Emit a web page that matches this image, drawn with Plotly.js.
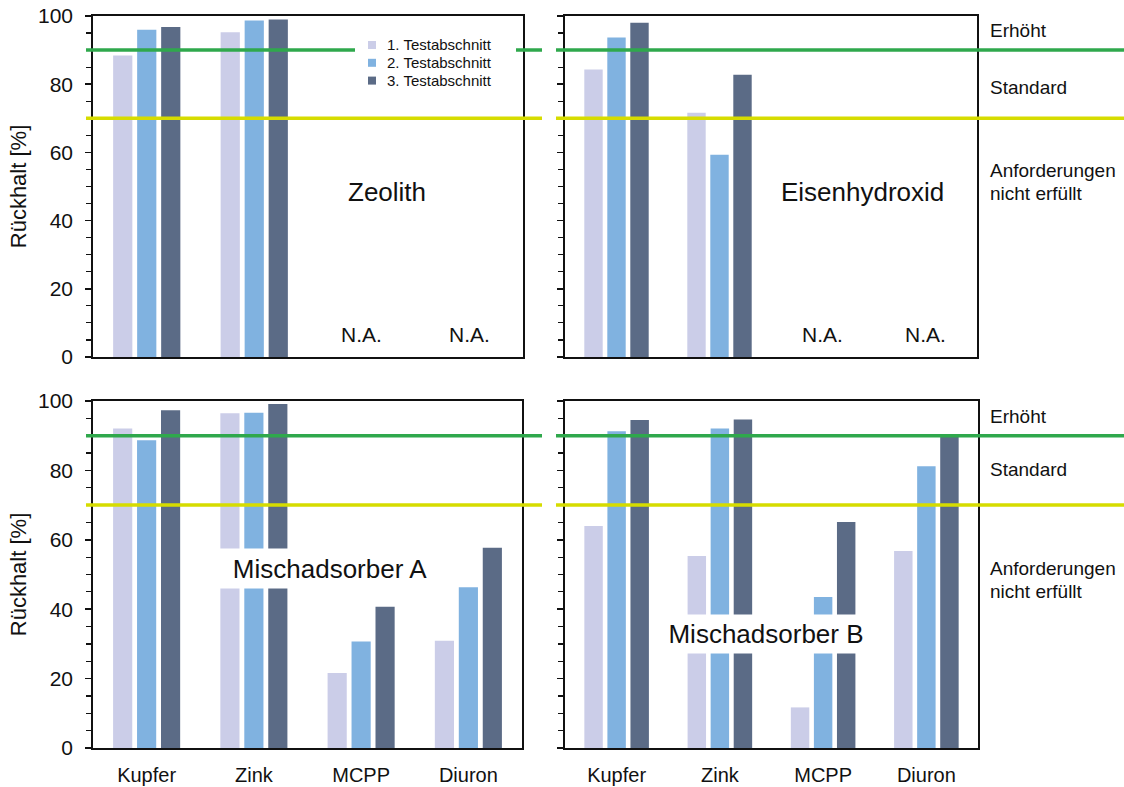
<!DOCTYPE html>
<html>
<head>
<meta charset="utf-8">
<script src="https://cdn.plot.ly/plotly-3.0.1.min.js"></script>
<style>html,body{margin:0;padding:0;background:#fff;}#chart{width:1124px;height:787px;}</style>
</head>
<body>
<div id="chart"></div>
<script>
// ---- data ----
const categories = ['Kupfer', 'Zink', 'MCPP', 'Diuron'];
const seriesNames = ['1. Testabschnitt', '2. Testabschnitt', '3. Testabschnitt'];

const zeolith1 = [88.4, 95.2, null, null];
const zeolith2 = [96.0, 98.7, null, null];
const zeolith3 = [96.8, 99.0, null, null];

const eisen1 = [84.3, 71.6, null, null];
const eisen2 = [93.7, 59.3, null, null];
const eisen3 = [98.0, 82.8, null, null];

const mischA1 = [92.1, 96.5, 21.6, 30.9];
const mischA2 = [88.7, 96.6, 30.7, 46.3];
const mischA3 = [97.3, 99.1, 40.7, 57.7];

const mischB1 = [64.0, 55.3, 11.7, 56.8];
const mischB2 = [91.3, 92.1, 43.5, 81.2];
const mischB3 = [94.5, 94.7, 65.1, 89.6];

const panelNames = ['Zeolith', 'Eisenhydroxid', 'Mischadsorber A', 'Mischadsorber B'];
const naLabel = 'N.A.';
const thresholdValues = [90, 70];           // Erhöht, Standard
const zoneLabels = ['Erhöht', 'Standard', 'Anforderungen', 'nicht erfüllt'];
const yTickVals = [0, 20, 40, 60, 80, 100];

// ---- styling ----
const W = 1124, H = 787;
const fx = x => x / W;
const fy = y => 1 - y / H;
const FONT = 'Arial, "Liberation Sans", sans-serif';
const barColors = ['#CBCDE8', '#80B2E0', '#5B6B86'];
const lineColors = ['#2FA84C', '#D6DC00'];

const panels = [
  {data: [zeolith1, zeolith2, zeolith3], xa: 'x', ya: 'y'},
  {data: [eisen1, eisen2, eisen3], xa: 'x2', ya: 'y2'},
  {data: [mischA1, mischA2, mischA3], xa: 'x3', ya: 'y3'},
  {data: [mischB1, mischB2, mischB3], xa: 'x4', ya: 'y4'}
];

const traces = [];
panels.forEach(p => {
  p.data.forEach((vals, i) => {
    traces.push({
      type: 'bar', x: categories, y: vals, name: seriesNames[i],
      xaxis: p.xa, yaxis: p.ya, showlegend: false,
      marker: {color: barColors[i], line: {width: 0}},
      hoverinfo: 'x+y+name'
    });
  });
});

const topDom = [fy(357), fy(16)];
const botDom = [fy(748), fy(401)];
const leftDomTop = [fx(93), fx(523)];
const rightDomTop = [fx(565), fx(977)];
const leftDomBot = [fx(93), fx(522)];
const rightDomBot = [fx(565), fx(978)];

function xax(dom, anchor, labels) {
  return {
    domain: dom, anchor: anchor, type: 'category', categoryorder: 'array', categoryarray: categories,
    showline: true, linecolor: '#111', linewidth: 1.8, mirror: true,
    ticks: '', showticklabels: labels, showgrid: false, zeroline: false,
    tickfont: {family: FONT, size: 20, color: '#111'}, ticklabelstandoff: 8
  };
}
function yax(dom, anchor, labels, title) {
  const a = {
    domain: dom, anchor: anchor, range: [0, 100], tickvals: yTickVals,
    showline: true, linecolor: '#111', linewidth: 1.8, mirror: true,
    ticks: 'outside', ticklen: 6, tickwidth: 1.5, tickcolor: '#111',
    minor: {dtick: 5, ticks: 'outside', ticklen: 5, tickwidth: 1.2, tickcolor: '#111'},
    showticklabels: labels, showgrid: false, zeroline: false,
    tickfont: {family: FONT, size: 21, color: '#111'}, ticklabelstandoff: 8
  };
  if (title) a.title = {text: 'Rückhalt [%]', font: {family: FONT, size: 22, color: '#111'}, standoff: 5};
  return a;
}
function yin(over, anchor) {
  return {
    overlaying: over, anchor: anchor, range: [0, 100], tickvals: yTickVals,
    ticks: 'inside', ticklen: 7, tickwidth: 1.5, tickcolor: '#111',
    showticklabels: false, showline: false, showgrid: false, zeroline: false
  };
}

const shapes = [];
[['paper', 'y'], ['paper', 'y3']].forEach(([xr, yr]) => {
  thresholdValues.forEach((v, i) => {
    [[86, 542], [556, 1124]].forEach(seg => {
      shapes.push({type: 'line', xref: xr, yref: yr, x0: fx(seg[0]), x1: fx(seg[1]), y0: v, y1: v,
        line: {color: lineColors[i], width: 3.5}, layer: 'above'});
    });
  });
});

const annotations = [];
// legend (drawn manually to match the compact row spacing)
shapes.push({type: 'rect', xref: 'paper', yref: 'paper', x0: fx(355), x1: fx(516), y0: fy(92), y1: fy(34),
  fillcolor: '#ffffff', line: {width: 0}, layer: 'above'});
const legendRows = [45, 62.8, 80.6];
seriesNames.forEach((n, i) => {
  const cy = legendRows[i];
  shapes.push({type: 'rect', xref: 'paper', yref: 'paper', x0: fx(368), x1: fx(376), y0: fy(cy + 4), y1: fy(cy - 4),
    fillcolor: barColors[i], line: {width: 0}, layer: 'above'});
  annotations.push({xref: 'paper', yref: 'paper', x: fx(385), y: fy(cy), text: n, showarrow: false,
    xanchor: 'left', yanchor: 'middle', font: {family: FONT, size: 15, color: '#111'}});
});
// N.A. labels
[['x', 'y'], ['x2', 'y2']].forEach(([xr, yr]) => {
  ['MCPP', 'Diuron'].forEach(c => {
    annotations.push({xref: xr, yref: yr, x: c, y: 6.5, text: naLabel, showarrow: false,
      xanchor: 'center', yanchor: 'middle', font: {family: FONT, size: 21, color: '#111'}});
  });
});
// panel names
annotations.push({xref: 'paper', yref: 'paper', x: fx(387), y: fy(192), text: panelNames[0], showarrow: false,
  xanchor: 'center', yanchor: 'middle', font: {family: FONT, size: 26, color: '#111'}});
annotations.push({xref: 'paper', yref: 'paper', x: fx(862), y: fy(192), text: panelNames[1], showarrow: false,
  xanchor: 'center', yanchor: 'middle', font: {family: FONT, size: 26, color: '#111'}});
annotations.push({xref: 'paper', yref: 'paper', x: fx(330), y: fy(568), text: panelNames[2], showarrow: false,
  xanchor: 'center', yanchor: 'middle', font: {family: FONT, size: 26, color: '#111'},
  bgcolor: '#ffffff', width: 222, height: 39, borderpad: 0});
annotations.push({xref: 'paper', yref: 'paper', x: fx(766), y: fy(633.5), text: panelNames[3], showarrow: false,
  xanchor: 'center', yanchor: 'middle', font: {family: FONT, size: 26, color: '#111'},
  bgcolor: '#ffffff', width: 212, height: 38, borderpad: 0});
// zone labels on the right
[[31, 88, 171, 194], [416, 470, 568, 591]].forEach(ys => {
  ys.forEach((yy, i) => {
    annotations.push({xref: 'paper', yref: 'paper', x: fx(988), y: fy(yy), text: zoneLabels[i], showarrow: false,
      xanchor: 'left', yanchor: 'middle', font: {family: FONT, size: 19, color: '#111'}});
  });
});

const layout = {
  width: W, height: H, margin: {l: 0, r: 0, t: 0, b: 0},
  paper_bgcolor: '#fff', plot_bgcolor: 'rgba(0,0,0,0)',
  barmode: 'group', bargap: 0.33, bargroupgap: 0.2,
  font: {family: FONT, color: '#111'},
  showlegend: false,
  xaxis: xax(leftDomTop, 'y', false),
  yaxis: yax(topDom, 'x', true, true),
  xaxis2: xax(rightDomTop, 'y2', false),
  yaxis2: yax(topDom, 'x2', false, false),
  xaxis3: xax(leftDomBot, 'y3', true),
  yaxis3: yax(botDom, 'x3', true, true),
  xaxis4: xax(rightDomBot, 'y4', true),
  yaxis4: yax(botDom, 'x4', false, false),
  yaxis5: yin('y', 'x'),
  yaxis6: yin('y2', 'x2'),
  yaxis7: yin('y3', 'x3'),
  yaxis8: yin('y4', 'x4'),
  shapes: shapes,
  annotations: annotations
};

Plotly.newPlot('chart', traces, layout, {displayModeBar: false, staticPlot: true});
</script>
</body>
</html>
